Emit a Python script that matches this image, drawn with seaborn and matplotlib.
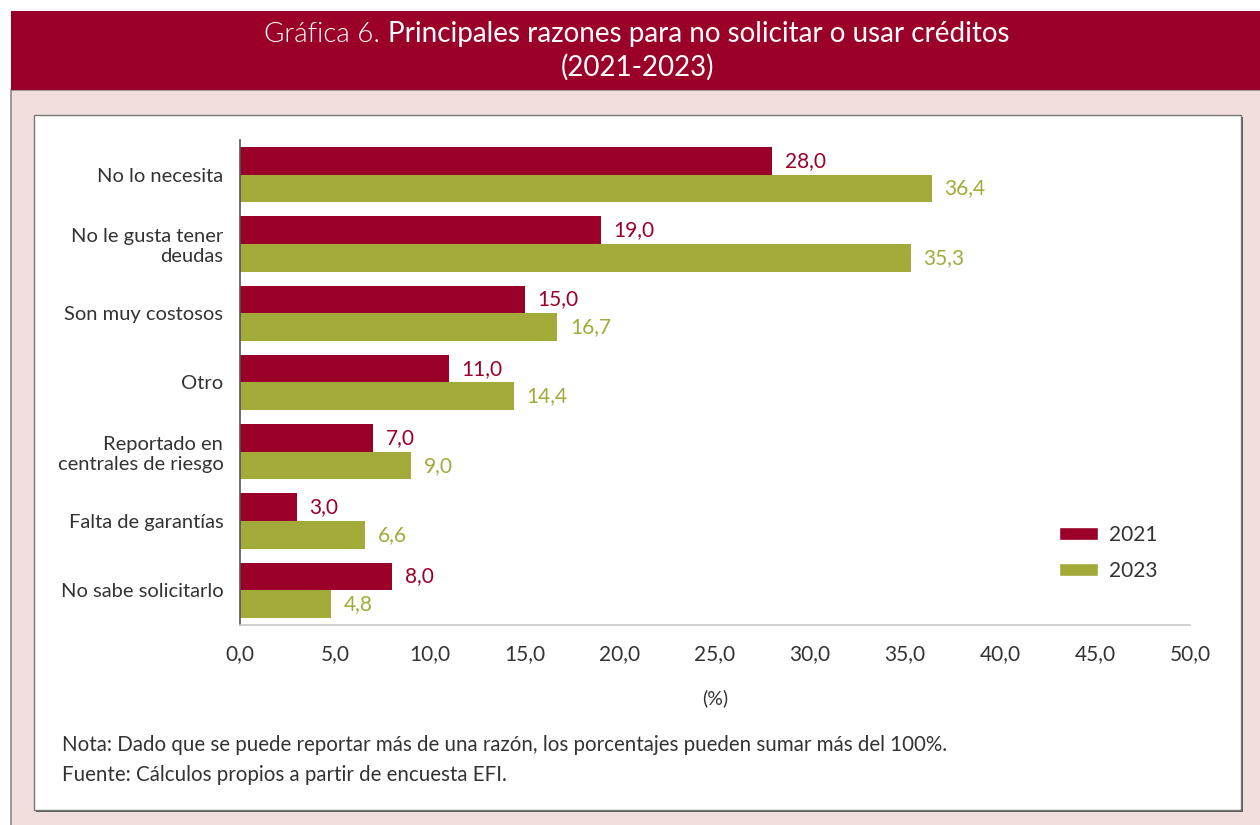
import matplotlib
matplotlib.use("Agg")
import matplotlib.pyplot as plt
from matplotlib.patches import Rectangle, Patch
import seaborn as sns
import pandas as pd

# Data
razones = [
    "No lo necesita",
    "No le gusta tener\ndeudas",
    "Son muy costosos",
    "Otro",
    "Reportado en\ncentrales de riesgo",
    "Falta de garantías",
    "No sabe solicitarlo",
]
valores_2021 = [28.0, 19.0, 15.0, 11.0, 7.0, 3.0, 8.0]
valores_2023 = [36.4, 35.3, 16.7, 14.4, 9.0, 6.6, 4.8]
anios = ["2021", "2023"]
xticks = [0, 5, 10, 15, 20, 25, 30, 35, 40, 45, 50]

ROJO = "#9B0029"
OLIVA = "#A2AA3A"
ROSA = "#F2DFDD"
TEXTO = "#333333"

sns.set_theme(style="white")
plt.rcParams["font.family"] = ["Lato", "DejaVu Sans"]

df = pd.DataFrame({
    "razon": razones * 2,
    "valor": valores_2021 + valores_2023,
    "anio": [anios[0]] * len(razones) + [anios[1]] * len(razones),
})

W, H = 1260, 825
fig = plt.figure(figsize=(W / 100, H / 100), dpi=100)
fig.patch.set_facecolor("white")


def px_rect(x0, y0, x1, y1, **kw):
    """Rectangle given in pixel coordinates measured from the top-left corner."""
    r = Rectangle((x0 / W, 1 - y1 / H), (x1 - x0) / W, (y1 - y0) / H,
                  transform=fig.transFigure, **kw)
    fig.add_artist(r)
    return r


# Panel background, header band and white chart box
px_rect(11, 90, 1262, 827, facecolor=ROSA, edgecolor="#8a8a8a", linewidth=1.2, zorder=0)
px_rect(11, 11, 1262, 90, facecolor=ROJO, edgecolor="none", zorder=1)
px_rect(36, 117, 1243, 812, facecolor="#5a5a5a", edgecolor="none", zorder=1)
px_rect(34, 115, 1241, 810, facecolor="white", edgecolor="#777777", linewidth=1.0, zorder=2)

# Header text (two weights on the first line, centred together)
t1 = fig.text(0, 1 - 34 / H, "Gráfica 6. ", color="white", fontsize=20,
              fontweight=300, va="center", ha="left", zorder=5)
t2 = fig.text(0, 1 - 34 / H, "Principales razones para no solicitar o usar créditos",
              color="white", fontsize=20, fontweight="normal", va="center", ha="left", zorder=5)
fig.canvas.draw()
r = fig.canvas.get_renderer()
w1 = t1.get_window_extent(r).width
w2 = t2.get_window_extent(r).width
start = 637 - (w1 + w2) / 2
t1.set_x(start / W)
t2.set_x((start + w1) / W)
fig.text(637 / W, 1 - 67 / H, "(2021-2023)", color="white", fontsize=20,
         fontweight="normal", va="center", ha="center", zorder=5)

# Chart
ax = fig.add_axes([240 / W, 1 - 625 / H, 950 / W, 485 / H], zorder=3)
ax.set_facecolor("none")
sns.barplot(data=df, y="razon", x="valor", hue="anio", orient="h",
            palette=[ROJO, OLIVA], width=0.8, saturation=1, ax=ax,
            legend=False, edgecolor="none", errorbar=None)

ax.set_xlim(0, 50)
ax.set_ylim(6.5, -0.5)
ax.set_xticks(xticks)
ax.set_xticklabels([f"{v:.1f}".replace(".", ",") for v in xticks],
                   fontsize=15, color=TEXTO)
ax.tick_params(axis="y", labelsize=14.5, labelcolor=TEXTO, length=0, pad=12)
ax.tick_params(axis="x", length=0, pad=14)
ax.set_ylabel("")
ax.set_xlabel("(%)", fontsize=14, color=TEXTO, labelpad=18)

for side in ["top", "right"]:
    ax.spines[side].set_visible(False)
ax.spines["left"].set_color("#555555")
ax.spines["left"].set_linewidth(1.2)
ax.spines["bottom"].set_color("#c8c8c8")
ax.spines["bottom"].set_linewidth(1.2)

for cont, color in zip(ax.containers, [ROJO, OLIVA]):
    labels = [f"{b.get_width():.1f}".replace(".", ",") for b in cont]
    ax.bar_label(cont, labels=labels, padding=9, color=color, fontsize=15)

handles = [Patch(facecolor=ROJO, label=anios[0]), Patch(facecolor=OLIVA, label=anios[1])]
ax.legend(handles=handles, loc="center left", bbox_to_anchor=(0.842, 0.149),
          frameon=False, fontsize=15, handlelength=1.9, handleheight=0.55,
          labelspacing=0.76, handletextpad=0.5, labelcolor=TEXTO)

# Notes
fig.text(62 / W, 1 - 745 / H,
         "Nota: Dado que se puede reportar más de una razón, los porcentajes pueden sumar más del 100%.",
         fontsize=14.8, color=TEXTO, va="center", ha="left", zorder=5)
fig.text(62 / W, 1 - 775 / H, "Fuente: Cálculos propios a partir de encuesta EFI.",
         fontsize=14.8, color=TEXTO, va="center", ha="left", zorder=5)

fig.savefig("out.png", dpi=100, facecolor=fig.get_facecolor())
